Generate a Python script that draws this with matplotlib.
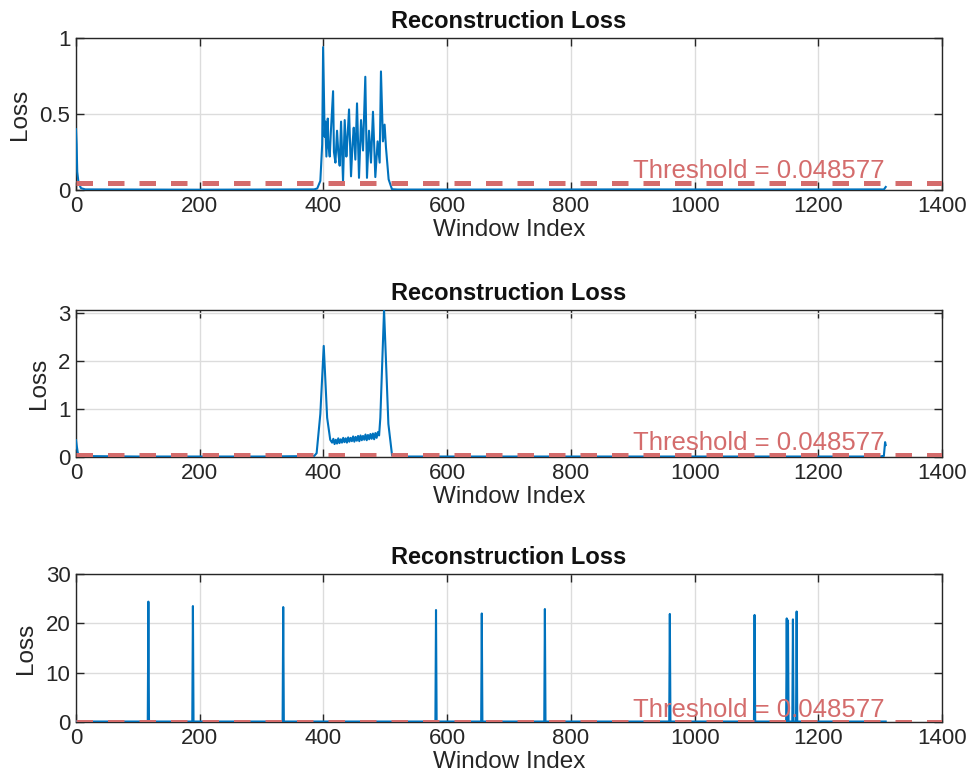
import numpy as np
import matplotlib
matplotlib.use("Agg")
import matplotlib.pyplot as plt

plt.rcParams['font.family'] = ['Liberation Sans', 'DejaVu Sans']

threshold = 0.048577
title_txt = "Reconstruction Loss"

# panel 1: window index / loss
idx1 = [0, 1, 2, 4, 8, 15, 100, 200, 300, 385, 390, 395, 398,
        399.5, 402, 403, 404.8, 407, 408, 410.2, 412, 415.6, 417, 419.4, 422, 424, 426.3, 428.5, 431.7,
        434.4, 437.1, 439, 441.4, 444.6, 447, 449, 451.6, 454.3, 457.5, 460.8, 464,
        467.7, 470.4, 473.7, 476.9, 480.1, 483.9, 487.6, 490.9, 493, 496.2,
        498.9, 501.1, 505.4, 510.8, 520, 700, 900, 1100, 1300, 1306, 1309]
loss1 = [0.40, 0.30, 0.12, 0.05, 0.012, 0.004, 0.003, 0.002, 0.003, 0.004, 0.01, 0.06, 0.30,
         0.94, 0.35, 0.45, 0.22, 0.47, 0.30, 0.22, 0.38, 0.65, 0.25, 0.18, 0.39, 0.25, 0.16, 0.45, 0.055,
         0.46, 0.22, 0.35, 0.53, 0.09, 0.30, 0.41, 0.20, 0.57, 0.08, 0.46, 0.26,
         0.745, 0.08, 0.39, 0.18, 0.515, 0.085, 0.32, 0.18, 0.78, 0.32,
         0.43, 0.28, 0.07, 0.005, 0.003, 0.003, 0.004, 0.003, 0.004, 0.003, 0.02]

# panel 2
band_idx = list(range(414, 491, 2))
band_loss = [0.30, 0.38, 0.27, 0.36, 0.28, 0.39, 0.29, 0.37, 0.30, 0.40, 0.31, 0.39, 0.30,
             0.41, 0.32, 0.40, 0.33, 0.43, 0.32, 0.42, 0.34, 0.44, 0.33, 0.45, 0.35, 0.44,
             0.36, 0.47, 0.35, 0.46, 0.37, 0.48, 0.38, 0.49, 0.37, 0.50, 0.40, 0.52, 0.45]
idx2 = [0, 1, 3, 8, 100, 300, 385, 389, 395, 400.5, 406, 411] + band_idx + \
       [492, 498, 505, 511, 520, 800, 1300, 1304, 1306, 1308, 1309]
loss2 = [0.35, 0.25, 0.08, 0.02, 0.01, 0.01, 0.02, 0.08, 0.9, 2.32, 0.82, 0.36] + band_loss + \
        [0.82, 3.07, 0.69, 0.03, 0.01, 0.01, 0.01, 0.02, 0.02, 0.31, 0.25]

# panel 3: spikes
spike_idx = [117, 189, 335, 582, 656, 758, 960, 1097, 1149, 1151, 1159, 1165]
spike_val = [24.4, 23.5, 23.3, 22.7, 22.0, 22.9, 21.9, 21.7, 21.0, 20.6, 20.8, 22.4]
base3 = 0.1
last_idx = 1309

idx3 = [0]
loss3 = [base3]
for i, v in zip(spike_idx, spike_val):
    idx3 += [i - 1, i, i + 1]
    loss3 += [base3, v, base3]
idx3.append(last_idx)
loss3.append(base3)

panels = [(idx1, loss1, [0, 0.5, 1], ['0', '0.5', '1'], (0, 1)),
          (idx2, loss2, [0, 1, 2, 3], ['0', '1', '2', '3'], (0, 3.07)),
          (idx3, loss3, [0, 10, 20, 30], ['0', '10', '20', '30'], (0, 30))]

fig = plt.figure(figsize=(9.72, 7.83), dpi=100)
lefts = 76 / 972
width = (942 - 76) / 972
boxes = [(38, 190), (310, 457), (574, 722)]

for (x, y, yt, ytl, yl), (t, b) in zip(panels, boxes):
    ax = fig.add_axes([lefts, 1 - b / 783, width, (b - t) / 783])
    ax.plot(x, y, color='#0072BD', lw=1.5, zorder=3)
    ax.axhline(threshold, color='#D46C6C', lw=3.6, dashes=(3.3, 3.0), zorder=4)
    ax.text(900, threshold, 'Threshold = %g' % threshold, color='#D46C6C',
            fontsize=18.5, va='bottom', ha='left', zorder=5)
    ax.set_xlim(0, 1400)
    ax.set_ylim(*yl)
    ax.set_xticks(range(0, 1401, 200))
    ax.set_yticks(yt)
    ax.set_yticklabels(ytl)
    ax.grid(True, color='#dcdcdc', lw=1)
    ax.set_axisbelow(True)
    ax.tick_params(direction='in', length=6, width=1, top=True, right=True,
                   labelsize=16, colors='#262626', pad=4)
    for s in ax.spines.values():
        s.set_color('#262626')
        s.set_linewidth(1)
    ax.set_xlabel('Window Index', fontsize=17.5, color='#262626', labelpad=2)
    ax.set_ylabel('Loss', fontsize=17.5, color='#262626', labelpad=6)
    ax.set_title(title_txt, fontsize=17, fontweight='bold', color='#111111', pad=7)

fig.savefig('out.png', dpi=100)
